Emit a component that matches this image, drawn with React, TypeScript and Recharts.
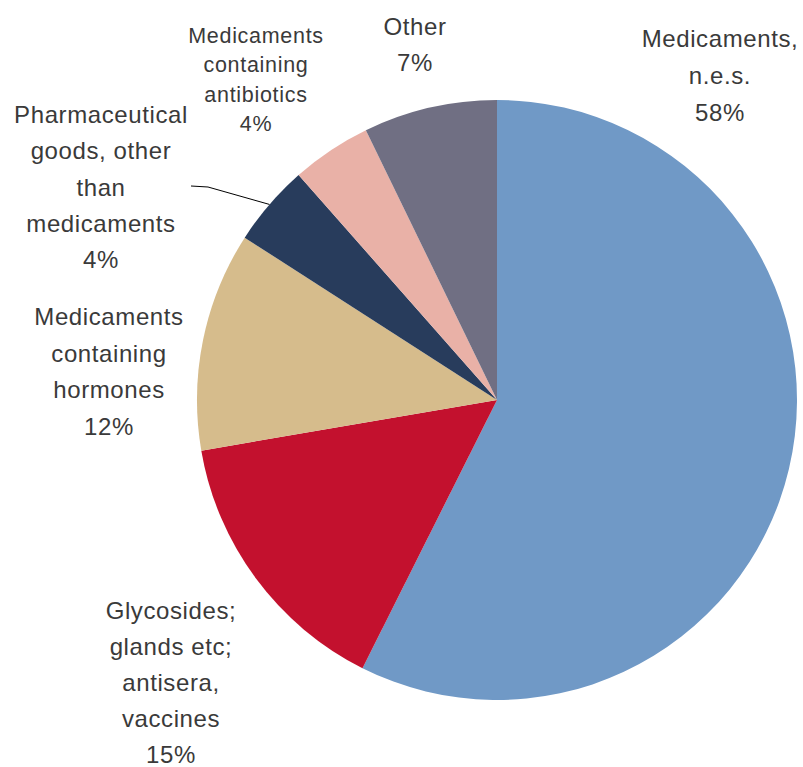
import React from "react";
import { PieChart, Pie, Cell } from "recharts";

const categories = [
  "Medicaments, n.e.s.",
  "Glycosides; glands etc; antisera, vaccines",
  "Medicaments containing hormones",
  "Pharmaceutical goods, other than medicaments",
  "Medicaments containing antibiotics",
  "Other",
];
const shares = [57.4, 14.9, 11.8, 4.4, 4.3, 7.2];
const percentLabels = ["58%", "15%", "12%", "4%", "4%", "7%"];
const labelLines = [
  ["Medicaments,", "n.e.s."],
  ["Glycosides;", "glands etc;", "antisera,", "vaccines"],
  ["Medicaments", "containing", "hormones"],
  ["Pharmaceutical", "goods, other", "than", "medicaments"],
  ["Medicaments", "containing", "antibiotics"],
  ["Other"],
];
const colors = ["#7099C6", "#C3112E", "#D6BC8C", "#283C5C", "#E9B1A7", "#706F83"];

const data = categories.map((name, i) => ({ name, value: shares[i] }));

// label layout (text centre x, first baseline y, line height, font size)
const labelLayout = [
  { x: 720, y: 47, lh: 37, fs: 24 },
  { x: 171, y: 619, lh: 36, fs: 24 },
  { x: 109, y: 325, lh: 36.7, fs: 24 },
  { x: 101, y: 123, lh: 36.25, fs: 24 },
  { x: 256, y: 43, lh: 29.3, fs: 21.5 },
  { x: 415, y: 35, lh: 36, fs: 24 },
];

const RAD = Math.PI / 180;

const renderLabel = (props: any) => {
  const { index, cx, cy, midAngle, outerRadius } = props;
  const L = labelLayout[index];
  const lines = [...labelLines[index], percentLabels[index]];
  const ls = L.fs < 22 ? 0.7 : 0.6;
  let leader = null;
  if (index === 3) {
    const ex = cx + outerRadius * Math.cos(-midAngle * RAD);
    const ey = cy + outerRadius * Math.sin(-midAngle * RAD);
    leader = (
      <polyline
        points={`191,186 208,187 ${ex},${ey}`}
        fill="none"
        stroke="#000"
        strokeWidth={1}
      />
    );
  }
  return (
    <g key={`lbl-${index}`}>
      {leader}
      <text
        textAnchor="middle"
        fill="#3a3a3a"
        fontSize={L.fs}
        letterSpacing={ls}
        fontFamily="'Liberation Sans', Arial, sans-serif"
      >
        {lines.map((t, i) => (
          <tspan key={i} x={L.x} y={L.y + i * L.lh}>
            {t}
          </tspan>
        ))}
      </text>
    </g>
  );
};

export default function App() {
  return (
    <div style={{ position: "absolute", left: 0, top: 0, background: "#fff" }}>
      <PieChart width={803} height={767} margin={{ top: 0, right: 0, bottom: 0, left: 0 }}>
        <Pie
          data={data}
          dataKey="value"
          nameKey="name"
          cx={497}
          cy={400}
          outerRadius={300}
          startAngle={90}
          endAngle={-270}
          stroke="none"
          label={renderLabel}
          labelLine={false}
          isAnimationActive={false}
        >
          {data.map((d, i) => (
            <Cell key={d.name} fill={colors[i]} />
          ))}
        </Pie>
      </PieChart>
    </div>
  );
}
